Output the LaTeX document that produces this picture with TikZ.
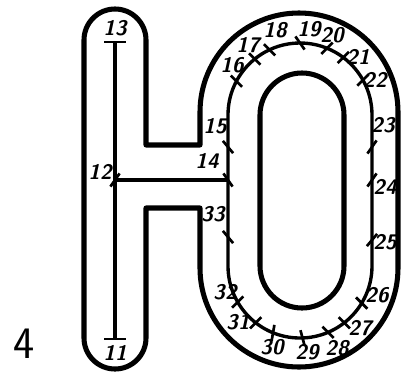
\documentclass[tikz,border=0pt]{standalone}
\begin{document}
\begin{tikzpicture}[x=0.025cm,y=0.025cm,
  outline/.style={line width=3.6pt,line join=round},
  midline/.style={line width=2.4pt},
  tickmark/.style={line width=1.9pt},
  num/.style={font=\fontsize{15}{15}\selectfont\sffamily\bfseries\slshape,inner sep=0pt}]
\useasboundingbox (0,0) rectangle (402,-371);
% outline of the letter
\draw[outline] (84,-338)--(84,-40) arc (180:0:31)--(146,-145)--(200,-145)--(200,-112)
  arc (180:0:99)--(398,-268) arc (0:-180:99)--(200,-208)--(146,-208)--(146,-338)
  arc (0:-180:31)--cycle;
\draw[outline] (260,-266)--(260,-115) arc (180:0:42)--(344,-266) arc (0:-180:42)--cycle;
% stroke path
\coordinate (t13) at (115,-42);
\coordinate (t11) at (115,-339);
\foreach \n/\x/\y in {12/115/180,14/228/180,15/228/147,33/228/237,23/372/147,24/372/180,25/372/240}
  \coordinate (t\n) at (\x,-\y);
\foreach \n/\f in {16/152,17/129,18/115,19/90,20/68,21/53,22/29}
  \coordinate (t\n) at ([shift={(\f:72)}]300,-115);
\foreach \n/\f in {26/-31,27/-52,28/-67,29/-88,30/-112,31/-128,32/-150}
  \coordinate (t\n) at ([shift={(\f:72)}]300,-266);
\draw[midline] (t13)--(t11);
\draw[midline] (t12)--(t14);
\draw[midline] (228,-266)--(228,-115) arc (180:0:72)--(372,-266) arc (0:-180:72)--cycle;
% ticks
\draw[tickmark] ([shift={(-11,0)}]t13)--([shift={(11,0)}]t13);
\draw[tickmark] ([shift={(-11,0)}]t11)--([shift={(11,0)}]t11);
\foreach \n/\a in {12/55,14/125,15/130,16/135,17/135,18/135,19/125,20/45,21/45,22/45,
  23/55,24/55,25/50,26/135,27/135,28/135,29/105,30/80,31/45,32/45,33/130}
  \draw[tickmark] ([shift={(\a:8)}]t\n)--([shift={(\a:-8)}]t\n);
% numbers
\foreach \n/\x/\y in {11/115/353,12/100/172,13/115/28,14/207/161,15/215/126,16/232/65,
  17/248/45,18/275/30,19/309/29,20/332/35,21/358/57,22/375/80,23/383/125,24/385/187,
  25/385/242,26/377/295,27/360/328,28/337/348,29/307/352,30/272/347,31/238/322,
  32/225/292,33/213/214}
  \node[num] (n\n) at (\x,-\y) {\n};
\node[font=\fontsize{32}{32}\selectfont\sffamily,inner sep=0pt] (fig) at (24,-344) {4};
\end{tikzpicture}
\end{document}
